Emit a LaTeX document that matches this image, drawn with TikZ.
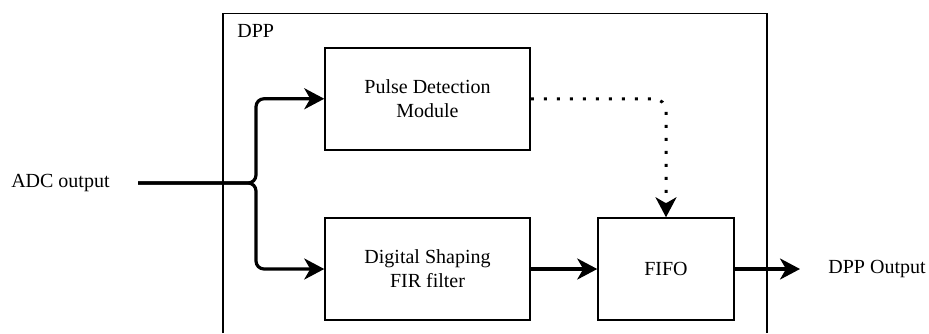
\documentclass[tikz,border=0pt]{standalone}
\usepackage{fontspec}
\setmainfont{Liberation Serif}
\usetikzlibrary{arrows.meta}

\begin{document}
\begin{tikzpicture}[x=0.5pt, y=-0.5pt,
    block/.style={draw, line width=0.75pt, inner sep=0pt, align=center,
      minimum height=51pt, font=\fontsize{10}{12}\selectfont},
    flow/.style={line width=1.6pt, rounded corners=4pt,
      -{Stealth[length=10pt, width=10.5pt, inset=3pt]}},
    signal/.style={line width=1.5pt, rounded corners=6pt,
      dash pattern=on 1.5pt off 5pt,
      -{Stealth[length=10pt, width=10.5pt, inset=3pt]}},
    label/.style={inner sep=0pt, font=\fontsize{10}{12}\selectfont}]

  \useasboundingbox (0,0) rectangle (929,333);

  % === DPP frame (open at the bottom) ===
  \draw[line width=0.75pt] (223,333) |- (767,13.5) -- (767,333);
  \node[label, anchor=west] (dpp) at (237,31) {DPP};

  % === Blocks ===
  \node[block, minimum width=102.5pt] (pdm) at (427.5,98.75) {Pulse Detection\\Module};
  \node[block, minimum width=102.5pt] (dsf) at (427.5,269) {Digital Shaping\\FIR filter};
  \node[block, minimum width=68pt] (fifo) at (666,269) {FIFO};

  % === Input and output labels ===
  \node[label, anchor=east] (adc) at (110,183) {ADC output};
  \coordinate (in) at (138,183);
  \coordinate (out) at (800,269);
  \node[label, anchor=west] (dppout) at (828,269) {DPP Output};

  % === Connectors ===
  \draw[flow] (in) -- (256,183) |- (pdm.west);
  \draw[flow] (in) -- (256,183) |- (dsf.west);
  \draw[flow] (dsf) -- (fifo);
  \draw[flow] (fifo) -- (out);
  \draw[signal] (pdm.east) -| (fifo.north);

\end{tikzpicture}
\end{document}
